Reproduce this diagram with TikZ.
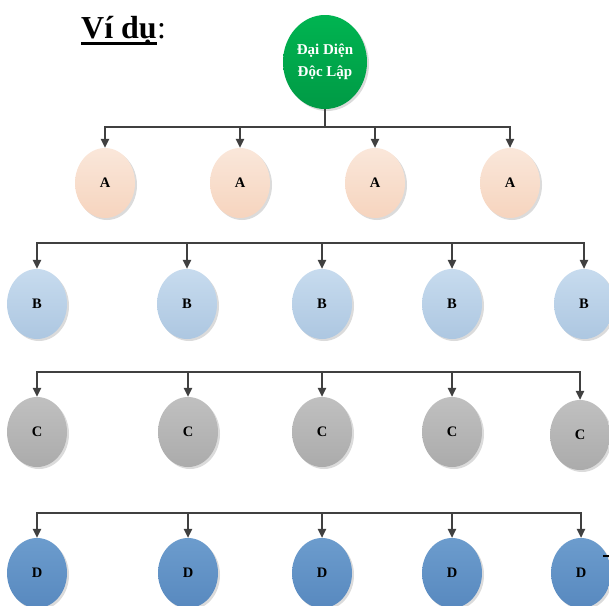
\documentclass[tikz,border=0pt]{standalone}
\usepackage{fontspec}
\setmainfont{Liberation Serif}
\usetikzlibrary{shapes.geometric,arrows.meta,shadows}
\definecolor{arrowgray}{HTML}{404040}
\definecolor{rootTop}{HTML}{00B451}
\definecolor{rootBot}{HTML}{009A45}
\definecolor{aTop}{HTML}{FAE7DA}
\definecolor{aBot}{HTML}{F6D4BE}
\definecolor{bTop}{HTML}{C7DBEE}
\definecolor{bBot}{HTML}{ADC7E1}
\definecolor{cTop}{HTML}{C0C0C0}
\definecolor{cBot}{HTML}{ABABAB}
\definecolor{dTop}{HTML}{6C9CCD}
\definecolor{dBot}{HTML}{5889BF}
\begin{document}
\begin{tikzpicture}[x=1pt,y=-1pt,
  bubble/.style={ellipse,minimum width=60pt,minimum height=70pt,inner sep=0pt,
    font=\fontsize{14.5}{16}\selectfont\bfseries,
    drop shadow={shadow xshift=2pt,shadow yshift=-2pt,fill=black!14,opacity=1}},
  rootnode/.style={bubble,minimum width=84pt,minimum height=94pt,align=center,
    text=white,font=\fontsize{15}{22}\selectfont\bfseries,
    top color=rootTop,bottom color=rootBot},
  anode/.style={bubble,top color=aTop,bottom color=aBot},
  bnode/.style={bubble,top color=bTop,bottom color=bBot},
  cnode/.style={bubble,top color=cTop,bottom color=cBot},
  dnode/.style={bubble,top color=dTop,bottom color=dBot},
  conn/.style={draw=arrowgray,line width=1.3pt},
  arr/.style={conn,-{Triangle[length=9pt,width=8.5pt]}}]
\useasboundingbox (0,0) rectangle (609,605);

% title
\node[anchor=base west,inner sep=0pt,font=\fontsize{32}{36}\selectfont\bfseries] (t1) at (81,38) {Ví dụ};
\node[anchor=base west,inner sep=0pt,font=\fontsize{32}{36}\selectfont] (t2) at (t1.base east) {:};
\fill ([yshift=-4pt]t1.base west) rectangle ([yshift=-7pt]t1.base east);

% root
\node[rootnode] (r) at (325,62) {Đại Diện\\Độc Lập};

% A level
\foreach \i/\x in {1/105,2/240,3/375,4/510}
  \node[anode] (a\i) at (\x,183) {A};
% B level
\foreach \i/\x in {1/37,2/187,3/322,4/452,5/584}
  \node[bnode] (b\i) at (\x,304) {B};
% C level
\foreach \i/\x in {1/37,2/188,3/322,4/452}
  \node[cnode] (c\i) at (\x,432) {C};
\node[cnode] (c5) at (580,435) {C};
% D level
\foreach \i/\x in {1/37,2/188,3/322,4/452,5/581}
  \node[dnode] (d\i) at (\x,573) {D};

% connectors
\coordinate (ja) at (325,127);
\coordinate (jb) at (322,243);
\coordinate (jc) at (322,372);
\coordinate (jd) at (322,513);
\draw[conn] (r.south) -- (ja);
\foreach \i in {1,...,4} \draw[arr] (ja) -| (a\i);
\foreach \i in {1,...,5} \draw[arr] (jb) -| (b\i);
\foreach \i in {1,...,5} \draw[arr] (jc) -| (c\i);
\foreach \i in {1,...,5} \draw[arr] (jd) -| (d\i);

% small mark at right edge
\coordinate (m1) at (603,556);
\coordinate (m2) at (609,556);
\draw[line width=1.5pt] (m1) -- (m2);
\end{tikzpicture}
\end{document}
